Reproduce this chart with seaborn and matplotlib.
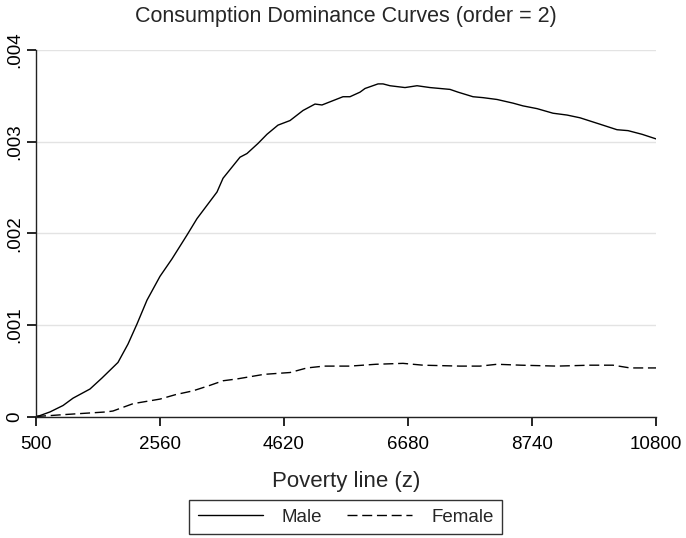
import numpy as np
import pandas as pd
import matplotlib
matplotlib.use("Agg")
import matplotlib.pyplot as plt
from matplotlib.ticker import FuncFormatter
import seaborn as sns

# values
male_z = [500, 566, 733, 949, 1115, 1397, 1596, 1862, 2028, 2178, 2344, 2560,
          2759, 3008, 3175, 3507, 3607, 3889, 4005, 4188, 4337, 4520, 4720,
          4936, 5135, 5251, 5600, 5716, 5883, 5966, 6182, 6265, 6381, 6630,
          6830, 7046, 7378, 7511, 7760, 7926, 8159, 8425, 8591, 8824, 9089,
          9322, 9538, 9870, 10152, 10335, 10568, 10800]
male_d = [0.0, 0.00001, 0.00005, 0.00012, 0.0002, 0.0003, 0.00042, 0.00059,
          0.00079, 0.00101, 0.00127, 0.00153, 0.00172, 0.00198, 0.00216,
          0.00245, 0.0026, 0.00283, 0.00287, 0.00298, 0.00308, 0.00318,
          0.00323, 0.00334, 0.00341, 0.0034, 0.00349, 0.00349, 0.00354,
          0.00358, 0.00363, 0.00363, 0.00361, 0.00359, 0.00361, 0.00359,
          0.00357, 0.00354, 0.00349, 0.00348, 0.00346, 0.00342, 0.00339,
          0.00336, 0.00331, 0.00329, 0.00326, 0.00319, 0.00313, 0.00312,
          0.00308, 0.00303]

female_z = [500, 733, 949, 1670, 1779, 2112, 2560, 2826, 3108, 3390, 3607,
            3840, 4288, 4720, 5002, 5284, 5716, 6148, 6597, 6930, 7544, 7877,
            8159, 8558, 9156, 9704, 10086, 10369, 10800]
female_d = [0.0, 0.00001, 0.00002, 0.00005, 0.00006, 0.00014, 0.00019,
            0.00024, 0.00028, 0.00034, 0.00039, 0.00041, 0.00046, 0.00048,
            0.00053, 0.00055, 0.00055, 0.00057, 0.00058, 0.00056, 0.00055,
            0.00055, 0.00057, 0.00056, 0.00055, 0.00056, 0.00056, 0.00053,
            0.00053]

x_ticks = [500, 2560, 4620, 6680, 8740, 10800]
y_ticks = [0, 0.001, 0.002, 0.003, 0.004]

df = pd.concat([
    pd.DataFrame({"z": male_z, "d": male_d, "group": "Male"}),
    pd.DataFrame({"z": female_z, "d": female_d, "group": "Female"}),
], ignore_index=True)

sns.set_style("white", {"xtick.bottom": True, "ytick.left": True})
plt.rcParams["font.family"] = ["Liberation Sans", "DejaVu Sans"]
plt.rcParams["xtick.major.size"] = 6
plt.rcParams["ytick.major.size"] = 6
plt.rcParams["xtick.major.width"] = 1.2
plt.rcParams["ytick.major.width"] = 1.2

fig = plt.figure(figsize=(6.86, 5.38), dpi=100)
ax = fig.add_axes([36 / 686, 1 - 416.5 / 538, 620 / 686, 366.5 / 538])

sns.lineplot(data=df, x="z", y="d", hue="group", style="group",
             palette={"Male": "black", "Female": "black"},
             dashes={"Male": "", "Female": (7.2, 3.4)},
             estimator=None, sort=False, linewidth=1.0, ax=ax, legend=False)

ax.set_xlim(500, 10800)
ax.set_ylim(0, 0.004)
ax.set_xticks(x_ticks)
ax.set_yticks(y_ticks)
ax.yaxis.set_major_formatter(FuncFormatter(
    lambda v, p: "0" if v == 0 else f"{v:.3f}".lstrip("0")))
ax.grid(axis="y", color="#e3e3e3", linewidth=1.0)
ax.grid(axis="x", visible=False)
for s in ["top", "right"]:
    ax.spines[s].set_visible(False)
for s in ["left", "bottom"]:
    ax.spines[s].set_color("#222222")
    ax.spines[s].set_linewidth(1.0)

ax.tick_params(axis="both", which="major", length=6.5, width=1.2,
               color="black", labelcolor="black", labelsize=13.5,
               left=True, bottom=True, direction="out")
ax.tick_params(axis="x", pad=7.5)
ax.tick_params(axis="y", pad=3)
for lab in ax.get_yticklabels():
    lab.set_rotation(90)
    lab.set_va("center")

ax.set_xlabel("Poverty line (z)", fontsize=16, labelpad=13)
ax.set_ylabel("")
ax.set_title("Consumption Dominance Curves (order = 2)", fontsize=15.5, pad=20)

handles = [plt.Line2D([], [], color="black", lw=1.0),
           plt.Line2D([], [], color="black", lw=1.0, dashes=(7.2, 3.4))]
leg = fig.legend(handles, ["Male", "Female"], loc="center",
                 bbox_to_anchor=(345.5 / 686, 1 - 517 / 538), ncol=2,
                 fontsize=13.5, frameon=True, fancybox=False,
                 edgecolor="black", handlelength=3.5, handletextpad=1.0,
                 columnspacing=1.3, borderpad=0.45)
leg.get_frame().set_linewidth(1.0)

fig.savefig("out.png", dpi=100)
